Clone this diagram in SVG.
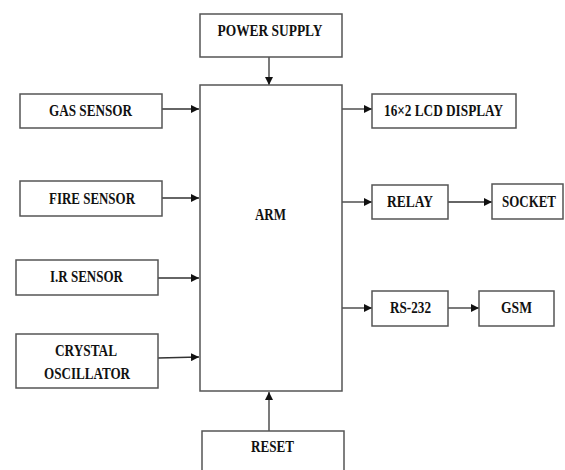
<svg xmlns="http://www.w3.org/2000/svg" width="565" height="470" viewBox="0 0 565 470">
<style>
.box{fill:#fff;stroke:#555;stroke-width:1.5}
.t{font-family:"Liberation Serif","Times New Roman",serif;font-weight:bold;font-size:16px;fill:#111;text-anchor:middle}
.c{stroke:#333;stroke-width:1.3;fill:none;marker-end:url(#ah)}
</style>
<defs>
<marker id="ah" markerUnits="userSpaceOnUse" markerWidth="9" markerHeight="8" refX="8" refY="4" orient="auto">
<path d="M0,0 L8,4 L0,8 Z" fill="#111"/>
</marker>
</defs>
<rect width="565" height="470" fill="#fff"/>
<g id="connectors">
<line class="c" x1="269" y1="57" x2="269" y2="85"/>
<line class="c" x1="162" y1="109" x2="199" y2="109"/>
<line class="c" x1="162" y1="198" x2="199" y2="198"/>
<line class="c" x1="158" y1="278" x2="199" y2="278"/>
<line class="c" x1="158" y1="358" x2="199" y2="357"/>
<line class="c" x1="269" y1="431" x2="269" y2="392"/>
<line class="c" x1="342" y1="109" x2="372" y2="109"/>
<line class="c" x1="342" y1="202" x2="372" y2="202"/>
<line class="c" x1="448" y1="202" x2="492" y2="202"/>
<line class="c" x1="342" y1="308" x2="372" y2="308"/>
<line class="c" x1="448" y1="308" x2="479" y2="308"/>
</g>
<g id="power">
<rect class="box" x="200" y="14" width="142" height="43"/>
<text class="t" x="270" y="36" textLength="105" lengthAdjust="spacingAndGlyphs">POWER SUPPLY</text>
</g>
<g id="arm">
<rect class="box" x="200" y="85" width="142" height="306"/>
<text class="t" x="270.5" y="220" textLength="31" lengthAdjust="spacingAndGlyphs">ARM</text>
</g>
<g id="gas">
<rect class="box" x="20" y="94" width="142" height="34"/>
<text class="t" x="90.5" y="116" textLength="83" lengthAdjust="spacingAndGlyphs">GAS SENSOR</text>
</g>
<g id="fire">
<rect class="box" x="20" y="181" width="142" height="35"/>
<text class="t" x="92" y="204" textLength="86" lengthAdjust="spacingAndGlyphs">FIRE SENSOR</text>
</g>
<g id="ir">
<rect class="box" x="16" y="260" width="142" height="35"/>
<text class="t" x="86.5" y="282" textLength="73" lengthAdjust="spacingAndGlyphs">I.R SENSOR</text>
</g>
<g id="crystal">
<rect class="box" x="16" y="334" width="142" height="54"/>
<text class="t" x="86" y="356" textLength="62" lengthAdjust="spacingAndGlyphs">CRYSTAL</text>
<text class="t" x="87" y="379" textLength="86" lengthAdjust="spacingAndGlyphs">OSCILLATOR</text>
</g>
<g id="reset">
<rect class="box" x="202" y="431" width="142" height="50"/>
<text class="t" x="272.5" y="452" textLength="43" lengthAdjust="spacingAndGlyphs">RESET</text>
</g>
<g id="lcd">
<rect class="box" x="372" y="94" width="144" height="34"/>
<text class="t" x="443.5" y="116" textLength="119" lengthAdjust="spacingAndGlyphs">16×2 LCD DISPLAY</text>
</g>
<g id="relay">
<rect class="box" x="372" y="185" width="76" height="34"/>
<text class="t" x="410" y="207" textLength="46" lengthAdjust="spacingAndGlyphs">RELAY</text>
</g>
<g id="socket">
<rect class="box" x="492" y="184" width="71" height="35"/>
<text class="t" x="529" y="207" textLength="54" lengthAdjust="spacingAndGlyphs">SOCKET</text>
</g>
<g id="rs232">
<rect class="box" x="372" y="291" width="76" height="35"/>
<text class="t" x="410.5" y="313" textLength="41" lengthAdjust="spacingAndGlyphs">RS-232</text>
</g>
<g id="gsm">
<rect class="box" x="479" y="291" width="75" height="35"/>
<text class="t" x="516.5" y="313" textLength="31" lengthAdjust="spacingAndGlyphs">GSM</text>
</g>
</svg>
